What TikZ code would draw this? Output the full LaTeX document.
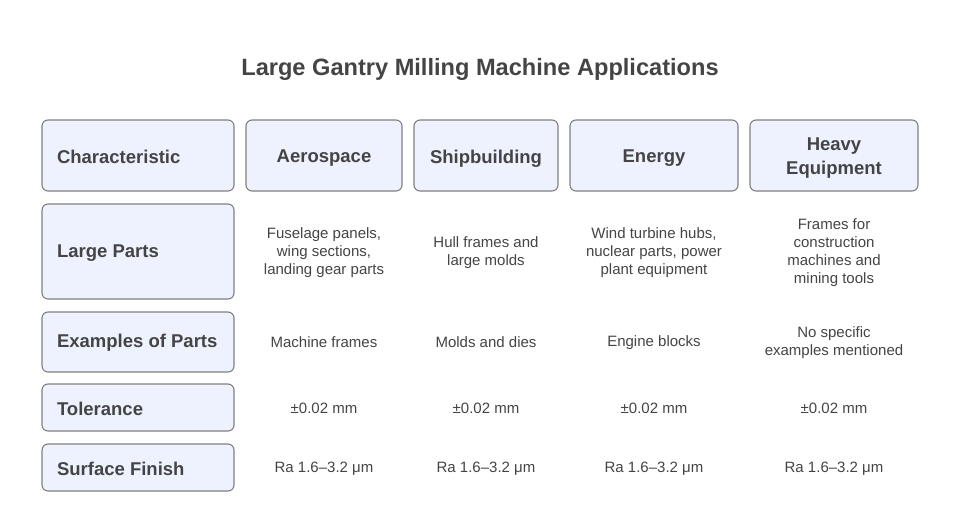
\documentclass[tikz,border=0pt]{standalone}
\usepackage{fontspec}
\setmainfont{Liberation Sans}
\definecolor{boxfill}{HTML}{EDF2FE}
\definecolor{boxline}{HTML}{7F7F7F}
\definecolor{txt}{HTML}{444444}
\begin{document}
\begin{tikzpicture}[x=1pt,y=-1pt,
  cellbox/.style={draw=boxline,fill=boxfill,line width=1.1pt,rounded corners=6pt},
  headtxt/.style={font=\bfseries\fontsize{18.5}{24}\selectfont,text=txt,align=center},
  rowtxt/.style={font=\bfseries\fontsize{18.5}{24}\selectfont,text=txt,anchor=west},
  bodytxt/.style={font=\fontsize{15}{18}\selectfont,text=txt,align=center}]
\useasboundingbox (0,0) rectangle (960,527);
\node[font=\bfseries\fontsize{23.6}{28}\selectfont,text=txt] (title) at (480,69) {Large Gantry Milling Machine Applications};
% header row
\draw[cellbox] (42,120) rectangle (234,191);
\draw[cellbox] (246,120) rectangle (402,191);
\draw[cellbox] (414,120) rectangle (558,191);
\draw[cellbox] (570,120) rectangle (738,191);
\draw[cellbox] (750,120) rectangle (918,191);
\node[rowtxt] (h0) at (53.5,157) {Characteristic};
\node[headtxt] (h1) at (324,158.5) {Aerospace};
\node[headtxt] (h2) at (486,158.5) {Shipbuilding};
\node[headtxt] (h3) at (654,158.5) {Energy};
\node[headtxt] (h4) at (834,158.5) {Heavy\\Equipment};
% row headers
\draw[cellbox] (42,204) rectangle (234,299);
\draw[cellbox] (42,312) rectangle (234,372);
\draw[cellbox] (42,384) rectangle (234,431);
\draw[cellbox] (42,444) rectangle (234,491);
\node[rowtxt] (r1) at (53.5,253) {Large Parts};
\node[rowtxt] (r2) at (53.5,343) {Examples of Parts};
\node[rowtxt] (r3) at (53.5,409) {Tolerance};
\node[rowtxt] (r4) at (53.5,469) {Surface Finish};
% body
\node[bodytxt] (c11) at (324,253) {Fuselage panels,\\wing sections,\\landing gear parts};
\node[bodytxt] (c12) at (486,253) {Hull frames and\\large molds};
\node[bodytxt] (c13) at (654,253) {Wind turbine hubs,\\nuclear parts, power\\plant equipment};
\node[bodytxt] (c14) at (834,253) {Frames for\\construction\\machines and\\mining tools};
\node[bodytxt] (c21) at (324,342.5) {Machine frames};
\node[bodytxt] (c22) at (486,342.5) {Molds and dies};
\node[bodytxt] (c23) at (654,342.5) {Engine blocks};
\node[bodytxt] (c24) at (834,343) {No specific\\examples mentioned};
\foreach \x/\n in {324/1,486/2,654/3,834/4}{
  \node[bodytxt] (c3\n) at (\x,408.5) {±0.02 mm};
  \node[bodytxt] (c4\n) at (\x,468.5) {Ra 1.6–3.2 μm};
}
\end{tikzpicture}
\end{document}
